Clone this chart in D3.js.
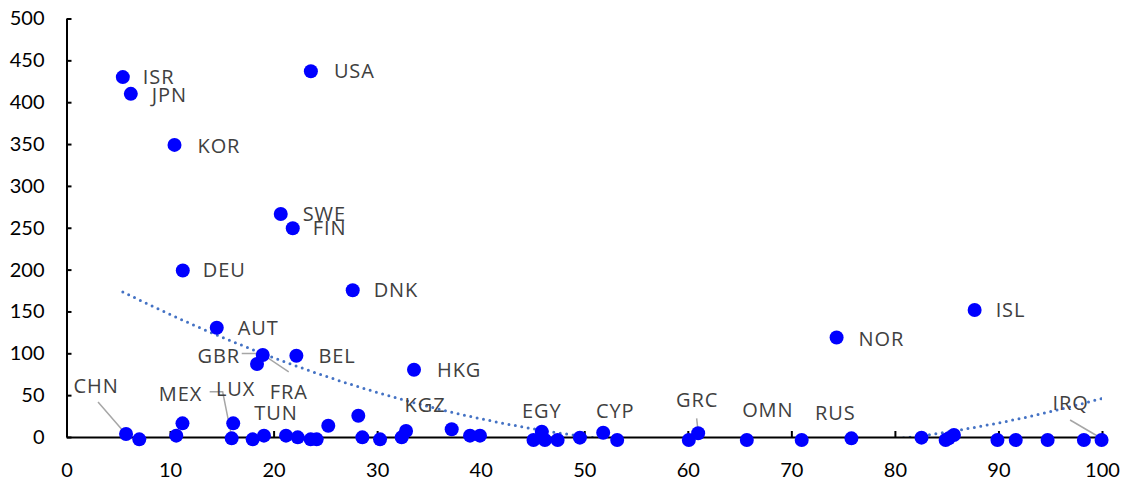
<!DOCTYPE html>
<html>
  <head>
    <meta charset="utf-8" />
    <title>scatter</title>
    <script src="https://cdn.jsdelivr.net/npm/d3@7"></script>
    <style type="text/css">
      body { margin: 0; background: #fff; }
      .tick text { font-family: Lato, "Liberation Sans", sans-serif; font-size: 20px; fill: #000; }
      .lbl { font-family: "Open Sans", sans-serif; font-size: 20px; fill: #404040; letter-spacing: 0.9px; }
    </style>
  </head>

  <body>
    <svg id="chart" width="1123" height="480"></svg>
    <script type="text/javascript">
      // values
      var xValues = [5.44, 6.21, 23.6, 10.43, 20.69, 21.85, 11.23, 27.64, 14.51, 18.4, 18.95, 22.2,
        5.75, 7.03, 10.6, 11.2, 16.1, 15.95, 17.98, 19.07, 21.2, 22.33, 23.58, 24.16, 25.28,
        28.18, 28.57, 30.28, 32.37, 32.79, 33.56, 37.2, 38.97, 39.93, 45.1, 45.9, 46.2, 47.43,
        49.58, 51.83, 53.18, 60.1, 61.0, 65.7, 71.0, 74.37, 75.8, 82.57, 84.9, 85.2, 85.7,
        87.7, 89.9, 91.67, 94.75, 98.25, 99.96];
      var yValues = [430, 410, 437, 349, 266.5, 249.4, 199, 175.4, 130.6, 87.2, 98, 97.1,
        3.6, -2.8, 1.6, 16.3, 16.3, -1.6, -2.8, 1.6, 1.6, -0.4, -2.8, -2.8, 13.5,
        25.4, -0.4, -2.8, -0.4, 7.2, 80.4, 9.2, 1.6, 1.6, -3.6, 6.3, -3.6, -3.6,
        -0.8, 5.1, -3.6, -3.6, 4.4, -3.6, -3.6, 118.8, -1.6, -0.8, -3.6, -1.6, 2.4,
        151.7, -3.6, -3.6, -3.6, -3.6, -3.6];
      var codes = ['ISR', 'JPN', 'USA', 'KOR', 'SWE', 'FIN', 'DEU', 'DNK', 'AUT', 'GBR', 'FRA', 'BEL',
        'CHN', '', '', 'MEX', '', 'LUX', '', 'TUN', '', '', '', '', '',
        '', '', '', '', 'KGZ', 'HKG', '', '', '', '', 'EGY', '', '',
        '', 'CYP', '', '', 'GRC', 'OMN', '', 'NOR', 'RUS', '', '', '', '',
        'ISL', '', '', '', '', 'IRQ'];
      var xTicks = [0, 10, 20, 30, 40, 50, 60, 70, 80, 90, 100];
      var yTicks = [0, 50, 100, 150, 200, 250, 300, 350, 400, 450, 500];

      // where each label sits relative to its point (px)
      var labelPos = {
        ISR: { dx: 20, dy: 0 }, JPN: { dx: 21, dy: 1 }, USA: { dx: 23, dy: 0 },
        KOR: { dx: 23, dy: 1 }, SWE: { dx: 22, dy: 0 }, FIN: { dx: 20, dy: 0 },
        DEU: { dx: 20, dy: 0 }, DNK: { dx: 21, dy: 0 }, AUT: { dx: 21, dy: 0 },
        GBR: { dx: -17, dy: -8, anchor: 'end' },
        FRA: { dx: 26, dy: 37, anchor: 'middle', leader: [[26, 17], [-1.5, -1.5], [-21, -1.5]] },
        BEL: { dx: 22, dy: 0 }, HKG: { dx: 23, dy: 0 }, NOR: { dx: 22, dy: 1 }, ISL: { dx: 21, dy: 0 },
        CHN: { dx: -30, dy: -48, anchor: 'middle', leader: [[-28, -32], [-2, -2]] },
        MEX: { dx: -2, dy: -29, anchor: 'middle' },
        LUX: { dx: 4, dy: -49, anchor: 'middle', leader: [[-22, -46.5], [-9, -46.5], [0, -1.5]] },
        TUN: { dx: 12, dy: -23, anchor: 'middle' },
        KGZ: { dx: 19, dy: -26, anchor: 'middle' },
        EGY: { dx: 0, dy: -21, anchor: 'middle' },
        CYP: { dx: 12, dy: -22, anchor: 'middle' },
        GRC: { dx: -1, dy: -33, anchor: 'middle', leader: [[-1.5, -15], [0, -1]] },
        OMN: { dx: 21, dy: -30, anchor: 'middle' },
        RUS: { dx: -16, dy: -25, anchor: 'middle' },
        IRQ: { dx: -31, dy: -37, anchor: 'middle', leader: [[-31.5, -20], [0, -1.5]] }
      };

      var data = xValues.map(function (x, i) {
        return { x: x, y: yValues[i], code: codes[i] };
      });

      var svg = d3.select('#chart');
      var x = d3.scaleLinear().domain([0, 100]).range([66.5, 1102]);
      var y = d3.scaleLinear().domain([0, 500]).range([437, 18.5]);

      // polynomial (order 2) trend, least squares on the points
      var fitQuad = function (pts) {
        var s = [0, 0, 0, 0, 0], t = [0, 0, 0];
        pts.forEach(function (p) {
          for (var k = 0; k < 5; k++) s[k] += Math.pow(p.x, k);
          for (var k2 = 0; k2 < 3; k2++) t[k2] += Math.pow(p.x, k2) * p.y;
        });
        var m = [[s[0], s[1], s[2], t[0]], [s[1], s[2], s[3], t[1]], [s[2], s[3], s[4], t[2]]];
        for (var i = 0; i < 3; i++) {
          for (var j = i + 1; j < 3; j++) {
            var f = m[j][i] / m[i][i];
            for (var c = i; c < 4; c++) m[j][c] -= f * m[i][c];
          }
        }
        var r = [0, 0, 0];
        for (var i2 = 2; i2 >= 0; i2--) {
          var v = m[i2][3];
          for (var c2 = i2 + 1; c2 < 3; c2++) v -= m[i2][c2] * r[c2];
          r[i2] = v / m[i2][i2];
        }
        return r;
      };
      var coef = fitQuad(data);
      var ext = d3.extent(xValues);
      var trend = d3.range(ext[0], ext[1] + 0.001, 0.25).map(function (v) {
        return { x: v, y: coef[0] + coef[1] * v + coef[2] * v * v };
      });

      svg.append('clipPath').attr('id', 'plot')
        .append('rect').attr('x', x(0)).attr('y', y(500)).attr('width', x(100) - x(0)).attr('height', y(0) - y(500) + 1);

      svg.append('path')
        .attr('clip-path', 'url(#plot)')
        .attr('fill', 'none')
        .attr('stroke', '#4472C4')
        .attr('stroke-width', 3)
        .attr('stroke-linecap', 'round')
        .attr('stroke-dasharray', '0 6.5')
        .attr('d', d3.line().x((d) => x(d.x)).y((d) => y(d.y))(trend));

      // axes, ticks pointing inwards
      svg.append('g')
        .attr('transform', 'translate(' + x(0) + ',0)')
        .call(d3.axisLeft(y).tickValues(yTicks).tickSize(-5).tickSizeOuter(0).tickPadding(22))
        .call((g) => g.selectAll('line, path').attr('stroke', '#000').attr('stroke-width', 2));

      svg.append('g')
        .attr('transform', 'translate(0,' + y(0) + ')')
        .call(d3.axisBottom(x).tickValues(xTicks).tickSize(-6).tickSizeOuter(0).tickPadding(26))
        .call((g) => g.selectAll('line, path').attr('stroke', '#000').attr('stroke-width', 2));

      // leader lines
      var labelled = data.filter((d) => d.code && labelPos[d.code]);
      svg.append('g').selectAll('path')
        .data(labelled.filter((d) => labelPos[d.code].leader))
        .enter().append('path')
        .attr('fill', 'none').attr('stroke', '#A6A6A6').attr('stroke-width', 1.5)
        .attr('d', function (d) {
          var px = x(d.x), py = y(d.y);
          return d3.line()(labelPos[d.code].leader.map((o) => [px + o[0], py + o[1]]));
        });

      // points
      svg.append('g').selectAll('circle')
        .data(data).enter().append('circle')
        .attr('r', 7)
        .attr('cx', (d) => x(d.x))
        .attr('cy', (d) => y(d.y))
        .attr('fill', '#0000FF');

      // data labels
      svg.append('g').selectAll('text')
        .data(labelled).enter().append('text')
        .attr('class', 'lbl')
        .attr('x', (d) => x(d.x) + labelPos[d.code].dx)
        .attr('y', (d) => y(d.y) + labelPos[d.code].dy)
        .attr('dy', '0.35em')
        .attr('text-anchor', (d) => labelPos[d.code].anchor || 'start')
        .text((d) => d.code);
    </script>
  </body>
</html>
